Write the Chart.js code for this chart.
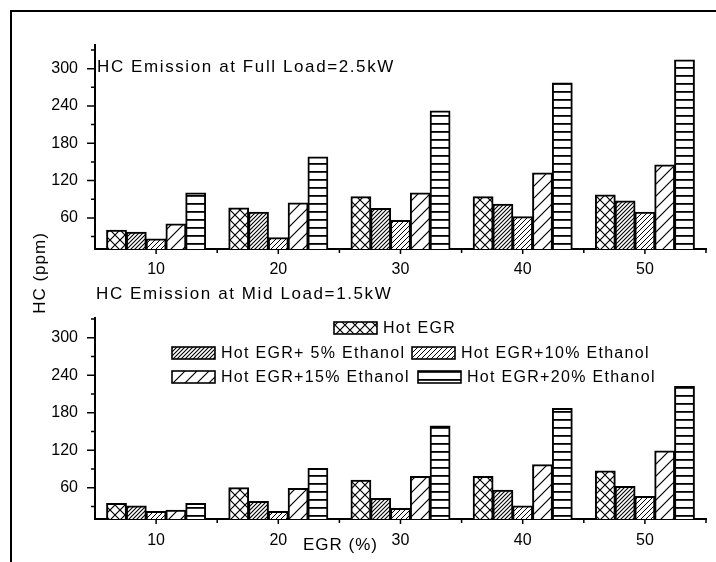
<!DOCTYPE html>
<html><head><meta charset="utf-8">
<script src="https://cdn.jsdelivr.net/npm/chart.js@4.4.1/dist/chart.umd.min.js"></script>
<style>
html,body{margin:0;padding:0;background:#fff;}
#wrap{position:relative;width:716px;height:562px;overflow:hidden;background:#fff;}
#frame{position:absolute;left:10px;top:10px;width:730px;height:580px;border:2px solid #000;box-sizing:border-box;}
canvas{position:absolute;left:0;}
.t{position:absolute;font-family:"Liberation Sans",Arial,sans-serif;font-size:17px;line-height:20px;color:#000;white-space:nowrap;}
</style></head><body>
<div id="wrap">
<div id="frame"></div>
<canvas id="cTop" width="716" height="280" style="top:0;width:716px;height:280px"></canvas>
<canvas id="cBot" width="716" height="282" style="top:280px;width:716px;height:282px"></canvas>
<div class="t" style="left:97px;top:57px;letter-spacing:1.6px">HC Emission at Full Load=2.5kW</div>
<div class="t" style="left:96px;top:284px;letter-spacing:1.6px">HC Emission at Mid Load=1.5kW</div>
<div class="t" style="left:-20px;top:263px;width:120px;text-align:center;letter-spacing:1px;transform:rotate(-90deg)">HC (ppm)</div>
<div class="t" style="left:303px;top:535px;letter-spacing:1px">EGR (%)</div>
</div>
<script>
// ---- data ----
const categories = ['10', '20', '30', '40', '50'];
const seriesNames = ['Hot EGR', 'Hot EGR+ 5% Ethanol', 'Hot EGR+10% Ethanol', 'Hot EGR+15% Ethanol', 'Hot EGR+20% Ethanol'];
const fullHotEGR   = [40, 76, 94, 94, 97];
const fullEth5     = [37, 69, 75, 82, 87];
const fullEth10    = [26, 28, 56, 62, 69];
const fullEth15    = [50, 84, 100, 132, 145];
const fullEth20    = [100, 158, 232, 277, 314];
const midHotEGR    = [35, 60, 72, 78, 87];
const midEth5      = [31, 38, 43, 56, 62];
const midEth10     = [22, 22, 27, 31, 46];
const midEth15     = [24, 59, 78, 97, 119];
const midEth20     = [35, 91, 159, 187, 222];
const yTickValues  = [60, 120, 180, 240, 300];
const yMinorValues = [30, 90, 150, 210, 270, 330];

// ---- patterns ----
function makeTile(w, h, draw) {
  const c = document.createElement('canvas');
  c.width = w; c.height = h;
  const g = c.getContext('2d');
  g.fillStyle = '#fff'; g.fillRect(0, 0, w, h);
  g.strokeStyle = '#000';
  draw(g, w, h);
  return document.createElement('canvas').getContext('2d').createPattern(c, 'repeat');
}
function diag(g, s, lw) {
  g.lineWidth = lw;
  g.beginPath();
  g.moveTo(0, s); g.lineTo(s, 0);
  g.moveTo(-s, s); g.lineTo(s, -s);
  g.moveTo(0, 2 * s); g.lineTo(2 * s, 0);
  g.stroke();
}
const patterns = [
  makeTile(10, 10, (g, w) => {
    g.lineWidth = 1.2; g.beginPath();
    g.moveTo(0, 0); g.lineTo(w, w);
    g.moveTo(0, w); g.lineTo(w, 0);
    g.stroke();
  }),
  makeTile(4, 4, (g, s) => diag(g, s, 1.1)),
  makeTile(5, 5, (g, s) => diag(g, s, 1.0)),
  makeTile(12, 12, (g, s) => diag(g, s, 1.2)),
  makeTile(8, 8, (g) => { g.fillStyle = '#000'; g.fillRect(0, 3, 8, 1.8); })
];

// ---- plugins ----
const axisTicks = {
  id: 'axisTicks',
  afterDraw(chart) {
    const { ctx, chartArea: a, scales: { x, y } } = chart;
    ctx.save();
    ctx.strokeStyle = '#000';
    ctx.lineWidth = 1.5;
    ctx.beginPath();
    yTickValues.forEach(v => { const p = y.getPixelForValue(v); ctx.moveTo(a.left - 8, p); ctx.lineTo(a.left, p); });
    yMinorValues.forEach(v => { if (v <= y.max) { const p = y.getPixelForValue(v); ctx.moveTo(a.left - 4, p); ctx.lineTo(a.left, p); } });
    categories.forEach((c, i) => { const p = x.getPixelForValue(i); ctx.moveTo(p, a.bottom); ctx.lineTo(p, a.bottom + 5); });
    categories.forEach((c, i) => { const p = x.getPixelForValue(i + 0.5); ctx.moveTo(p, a.bottom); ctx.lineTo(p, a.bottom + 4); });
    ctx.stroke();
    ctx.restore();
  }
};

const legendItems = [
  { ds: 0, x: 334, y: 42 },
  { ds: 1, x: 172, y: 67 },
  { ds: 2, x: 412, y: 67 },
  { ds: 3, x: 172, y: 91 },
  { ds: 4, x: 418, y: 91 }
];
const customLegend = {
  id: 'customLegend',
  afterDraw(chart) {
    const ctx = chart.ctx;
    ctx.save();
    ctx.font = '16px "Liberation Sans", Arial, sans-serif';
    try { ctx.letterSpacing = '1.3px'; } catch (e) {}
    ctx.textBaseline = 'middle';
    ctx.fillStyle = '#000';
    legendItems.forEach(it => {
      const ds = chart.data.datasets[it.ds];
      ctx.fillStyle = ds.backgroundColor;
      ctx.fillRect(it.x, it.y, 43, 12);
      ctx.strokeStyle = '#000';
      ctx.lineWidth = 1.6;
      ctx.strokeRect(it.x, it.y, 43, 12);
      ctx.fillStyle = '#000';
      ctx.fillText(ds.label, it.x + 49, it.y + 6.5);
    });
    ctx.restore();
  }
};

function buildDatasets(series) {
  return series.map((vals, i) => ({
    label: seriesNames[i],
    data: vals,
    backgroundColor: patterns[i],
    borderColor: '#000',
    borderWidth: 2,
    inflateAmount: 0.5,
    categoryPercentage: 0.81,
    barPercentage: 1.0
  }));
}

function makeChart(id, series, yMax, padTop, xHeight, xPad, extraPlugins) {
  return new Chart(document.getElementById(id), {
    type: 'bar',
    data: { labels: categories, datasets: buildDatasets(series) },
    options: {
      responsive: false,
      animation: false,
      devicePixelRatio: 1,
      layout: { padding: { left: 0, right: 10, top: padTop, bottom: 0 } },
      plugins: { legend: { display: false }, tooltip: { enabled: false }, title: { display: false } },
      scales: {
        x: {
          type: 'category',
          grid: { display: false, drawTicks: false },
          border: { display: true, color: '#000', width: 2 },
          ticks: { padding: xPad, color: '#000', autoSkip: false, maxRotation: 0,
                   font: { family: '"Liberation Sans", Arial, sans-serif', size: 16 } },
          afterFit: s => { s.height = xHeight; }
        },
        y: {
          min: 10, max: yMax,
          grid: { display: false, drawTicks: false },
          border: { display: true, color: '#000', width: 2 },
          ticks: { padding: 17, color: '#000',
                   font: { family: '"Liberation Sans", Arial, sans-serif', size: 16 } },
          afterBuildTicks: s => { s.ticks = yTickValues.map(v => ({ value: v })); },
          afterFit: s => { s.width = 95; }
        }
      }
    },
    plugins: [axisTicks].concat(extraPlugins)
  });
}

makeChart('cTop', [fullHotEGR, fullEth5, fullEth10, fullEth15, fullEth20], 338, 45, 31, 11, []);
makeChart('cBot', [midHotEGR, midEth5, midEth10, midEth15, midEth20], 331.6, 38, 43, 12, [customLegend]);
</script>
</body></html>
